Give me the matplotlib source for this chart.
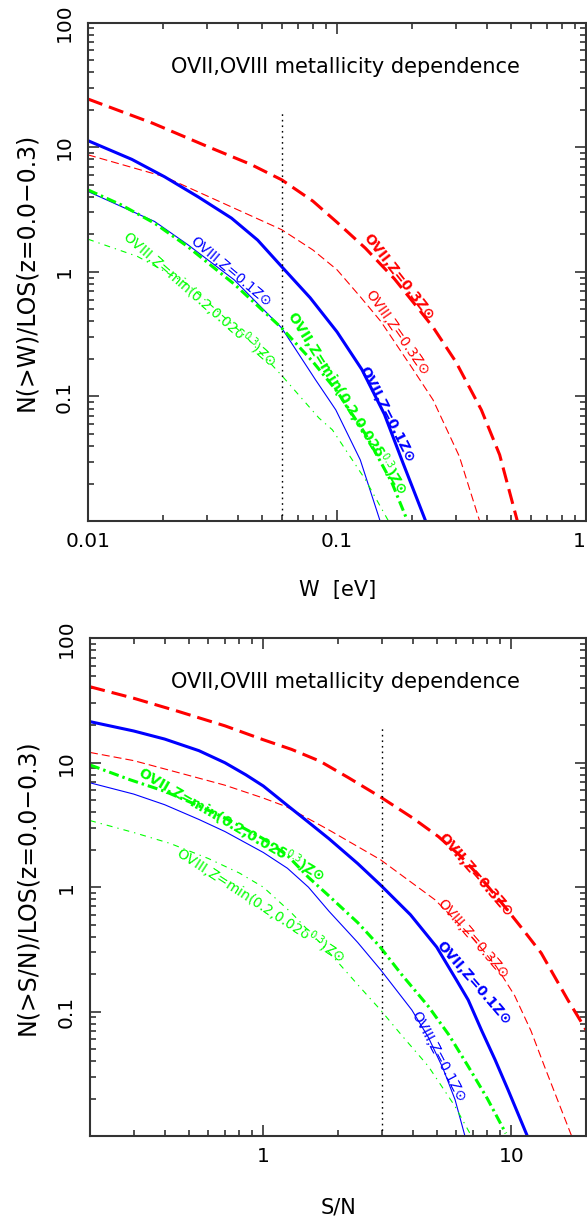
import matplotlib
matplotlib.use("Agg")
import matplotlib.pyplot as plt
from matplotlib.ticker import LogLocator, FuncFormatter, NullFormatter

# --- top panel: cumulative counts vs equivalent width W [eV] ---
w_o7_z03 = [0.01, 0.0182, 0.03, 0.045, 0.06, 0.08, 0.1, 0.13, 0.17, 0.21, 0.243, 0.3, 0.38, 0.45, 0.53]
n_o7_z03 = [24.4, 15.6, 10.2, 7.3, 5.48, 3.7, 2.5, 1.55, 0.88, 0.52, 0.36, 0.19, 0.078, 0.034, 0.01]

w_o7_z01 = [0.01, 0.015, 0.0203, 0.0277, 0.0377, 0.048, 0.06, 0.078, 0.1, 0.126, 0.155, 0.184, 0.227]
n_o7_z01 = [11.3, 8.0, 5.8, 4.0, 2.7, 1.8, 1.1, 0.62, 0.33, 0.164, 0.072, 0.0293, 0.01]

w_o8_z03 = [0.01, 0.0203, 0.035, 0.06, 0.08, 0.1, 0.125, 0.15, 0.2, 0.243, 0.31, 0.374]
n_o8_z03 = [8.7, 5.8, 3.55, 2.18, 1.5, 1.04, 0.62, 0.40, 0.17, 0.094, 0.033, 0.01]

w_o8_z01 = [0.01, 0.0136, 0.0185, 0.0251, 0.0386, 0.06, 0.082, 0.0929, 0.0989, 0.124, 0.149]
n_o8_z01 = [4.42, 3.35, 2.54, 1.66, 0.865, 0.354, 0.136, 0.094, 0.078, 0.031, 0.01]

w_o7_zmin = [0.01, 0.0136, 0.0185, 0.0251, 0.0386, 0.06, 0.08, 0.1, 0.13, 0.166, 0.192]
n_o7_zmin = [4.55, 3.45, 2.46, 1.6, 0.80, 0.354, 0.19, 0.11, 0.05, 0.0204, 0.01]

w_o8_zmin = [0.01, 0.0158, 0.0251, 0.0432, 0.0604, 0.0847, 0.0958, 0.13, 0.161]
n_o8_zmin = [1.83, 1.33, 0.80, 0.30, 0.145, 0.067, 0.054, 0.0215, 0.01]

# --- bottom panel: cumulative counts vs S/N ---
s_o7_z03 = [0.2, 0.3, 0.45, 0.7, 1.0, 1.3, 1.69, 2.2, 2.97, 4.0, 5.08, 6.2, 7.5, 9.5, 11.3, 13.2, 16.9, 20]
m_o7_z03 = [40.8, 33, 26, 19.8, 15.3, 12.8, 10.3, 7.6, 5.3, 3.6, 2.55, 1.8, 1.2, 0.68, 0.44, 0.295, 0.124, 0.0714]

s_o7_z01 = [0.2, 0.3, 0.4, 0.55, 0.7, 0.85, 1.0, 1.24, 1.5, 1.84, 2.4, 2.97, 3.92, 5.0, 6.0, 6.7, 7.6, 8.6, 9.7, 11.6]
m_o7_z01 = [21.4, 18.0, 15.5, 12.5, 10.0, 8.0, 6.5, 4.6, 3.4, 2.45, 1.55, 1.04, 0.6, 0.33, 0.18, 0.124, 0.07, 0.041, 0.0235, 0.01]

s_o8_z03 = [0.2, 0.3, 0.49, 0.7, 1.0, 1.24, 1.84, 2.97, 4.93, 7.0, 8.7, 10.3, 12.0, 13.6, 17.5]
m_o8_z03 = [12.1, 10.4, 8.0, 6.6, 5.2, 4.43, 2.88, 1.66, 0.79, 0.39, 0.23, 0.135, 0.07, 0.0363, 0.01]

s_o8_z01 = [0.2, 0.3, 0.4, 0.55, 0.7, 1.0, 1.25, 1.52, 1.84, 2.4, 2.97, 3.97, 4.63, 5.3, 5.93, 6.5]
m_o8_z01 = [6.9, 5.6, 4.6, 3.5, 2.8, 1.9, 1.42, 1.0, 0.64, 0.36, 0.217, 0.103, 0.062, 0.035, 0.0196, 0.01]

s_o7_zmin = [0.2, 0.29, 0.4, 0.55, 0.7, 1.0, 1.25, 1.52, 1.84, 2.4, 2.95, 3.6, 4.63, 5.6, 6.7, 8.0, 9.5]
m_o7_zmin = [9.6, 7.3, 5.9, 4.5, 3.6, 2.45, 1.8, 1.2, 0.85, 0.52, 0.333, 0.2, 0.11, 0.065, 0.0363, 0.02, 0.0105]

s_o8_zmin = [0.2, 0.3, 0.42, 0.6, 0.8, 1.0, 1.3, 1.84, 2.4, 2.69, 2.97, 3.6, 4.63, 5.93, 6.9]
m_o8_zmin = [3.43, 2.75, 2.25, 1.7, 1.3, 1.0, 0.62, 0.30, 0.165, 0.128, 0.103, 0.065, 0.0363, 0.0173, 0.01]

W_CUT = 0.06
SN_CUT = 3.0
CUT_TOP = 20.0

TITLE = "OVII,OVIII metallicity dependence"
SUN = "\u2299"
DELTA = "0.02\u03b4$^{0.3}$"

RED, BLUE, GREEN = "#ff0000", "#0000ff", "#00ff00"

fig = plt.figure(figsize=(5.87, 12.28), dpi=100)
ax1 = fig.add_axes([0.1499, 0.5757, 0.8484, 0.4058])
ax2 = fig.add_axes([0.1533, 0.0749, 0.8450, 0.4053])


def tick_fmt(v, pos):
    if v < 0.011:
        return ""
    return "%g" % v


def style_axes(ax, xlim):
    ax.set_xscale("log")
    ax.set_yscale("log")
    ax.set_xlim(*xlim)
    ax.set_ylim(0.01, 100)
    for a in (ax.xaxis, ax.yaxis):
        a.set_major_locator(LogLocator(base=10, numticks=12))
        a.set_minor_locator(LogLocator(base=10, subs=range(2, 10), numticks=40))
        a.set_minor_formatter(NullFormatter())
    ax.xaxis.set_major_formatter(FuncFormatter(lambda v, p: "%g" % v))
    ax.yaxis.set_major_formatter(FuncFormatter(tick_fmt))
    ax.tick_params(which="both", direction="in", top=True, right=True,
                   color="#333333", width=1.2, labelsize=14.5)
    ax.tick_params(which="major", length=8)
    ax.tick_params(which="minor", length=4)
    ax.tick_params(axis="x", pad=8)
    ax.tick_params(axis="y", pad=10, labelrotation=90)
    for lab in ax.get_yticklabels():
        lab.set_va("center")
    for sp in ax.spines.values():
        sp.set_linewidth(1.5)
        sp.set_color("#333333")
    ax.text(0.516, 0.912, TITLE, transform=ax.transAxes, ha="center",
            va="center", fontsize=15)


def draw(ax, curves, cut, labels):
    for x, y, color, lw, dashes in curves:
        ax.plot(x, y, color=color, lw=lw, dashes=dashes, solid_capstyle="butt",
                dash_capstyle="butt", solid_joinstyle="round")
    ax.vlines(cut, 0.01, CUT_TOP, colors="black", lw=1.0,
              linestyles=(0, (1.2, 2.8)))
    for txt, x, y, rot, color, weight in labels:
        ax.text(x, y, txt, color=color, fontweight=weight, fontsize=10,
                rotation=rot, rotation_mode="anchor", ha="center", va="center")


THICK, THIN = 2.2, 0.8
top_curves = [
    (w_o7_z03, n_o7_z03, RED, THICK, (5, 2.3)),
    (w_o8_z03, n_o8_z03, RED, THIN, (7.2, 3.6)),
    (w_o7_z01, n_o7_z01, BLUE, THICK, ()),
    (w_o8_z01, n_o8_z01, BLUE, THIN, ()),
    (w_o7_zmin, n_o7_zmin, GREEN, THICK, (3.3, 1.3, 0.8, 1.3)),
    (w_o8_zmin, n_o8_zmin, GREEN, THIN, (5.4, 4.5, 1.2, 4.5)),
]
bot_curves = [
    (s_o7_z03, m_o7_z03, RED, THICK, (5, 2.3)),
    (s_o8_z03, m_o8_z03, RED, THIN, (7.2, 3.6)),
    (s_o7_z01, m_o7_z01, BLUE, THICK, ()),
    (s_o8_z01, m_o8_z01, BLUE, THIN, ()),
    (s_o7_zmin, m_o7_zmin, GREEN, THICK, (3.3, 1.3, 0.8, 1.3)),
    (s_o8_zmin, m_o8_zmin, GREEN, THIN, (5.4, 4.5, 1.2, 4.5)),
]

top_labels = [
    ("OVII,Z=0.3Z" + SUN, 0.177, 0.91, -52, RED, "bold"),
    ("OVIII,Z=0.3Z" + SUN, 0.174, 0.325, -55, RED, "normal"),
    ("OVII,Z=0.1Z" + SUN, 0.158, 0.0714, -63, BLUE, "bold"),
    ("OVII,Z=min(0.2," + DELTA + ")Z" + SUN, 0.11, 0.089, -58, GREEN, "bold"),
    ("OVIII,Z=0.1Z" + SUN, 0.0373, 1.0, -40, BLUE, "normal"),
    ("OVIII,Z=min(0.2," + DELTA + ")Z" + SUN, 0.028, 0.6, -41, GREEN, "normal"),
]
bot_labels = [
    ("OVII,Z=min(0.2," + DELTA + ")Z" + SUN, 0.74, 3.22, -30, GREEN, "bold"),
    ("OVIII,Z=min(0.2," + DELTA + ")Z" + SUN, 0.98, 0.72, -33, GREEN, "normal"),
    ("OVII,Z=0.3Z" + SUN, 7.15, 1.26, -49, RED, "bold"),
    ("OVIII,Z=0.3Z" + SUN, 6.97, 0.385, -49, RED, "normal"),
    ("OVII,Z=0.1Z" + SUN, 7.03, 0.17, -49, BLUE, "bold"),
    ("OVIII,Z=0.1Z" + SUN, 5.08, 0.0434, -62, BLUE, "normal"),
]

style_axes(ax1, (0.01, 1))
style_axes(ax2, (0.2, 20))
draw(ax1, top_curves, W_CUT, top_labels)
draw(ax2, bot_curves, SN_CUT, bot_labels)

fig.text(0.044, 0.7785, "N(>W)/LOS(z=0.0\u22120.3)", rotation=90,
         ha="center", va="center", fontsize=17)
fig.text(0.047, 0.2777, "N(>S/N)/LOS(z=0.0\u22120.3)", rotation=90,
         ha="center", va="center", fontsize=17)
fig.text(0.5758, 0.5195, "W  [eV]", ha="center", va="center", fontsize=15)
fig.text(0.5775, 0.0163, "S/N", ha="center", va="center", fontsize=15)

# keep the "1" at the right end of the top axis inside the figure
fig.canvas.draw()
for lab in ax1.get_xticklabels():
    if lab.get_text() == "1":
        lab.set_ha("right")

fig.savefig("out.png", dpi=100)
